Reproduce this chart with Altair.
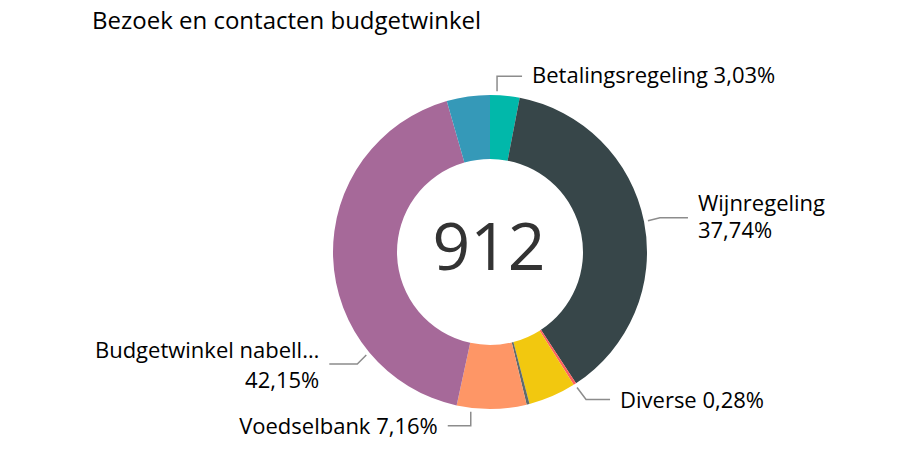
import math
import altair as alt
import pandas as pd

# ---- data ----
names = ["Betalingsregeling", "Wijnregeling", "Diverse", "Overig 1", "Overig 2",
         "Voedselbank", "Budgetwinkel nabellen", "Overig 3"]
pcts = [3.03, 37.74, 0.28, 4.90, 0.30, 7.16, 42.15, 4.44]
colors = ["#01B8AA", "#374649", "#FD625E", "#F2C80F", "#5F6B6D",
          "#FE9666", "#A66999", "#3599B8"]
label_lines = {
    "Betalingsregeling": ["Betalingsregeling 3,03%"],
    "Wijnregeling": ["Wijnregeling", "37,74%"],
    "Diverse": ["Diverse 0,28%"],
    "Voedselbank": ["Voedselbank 7,16%"],
    "Budgetwinkel nabellen": ["Budgetwinkel nabell…", "42,15%"],
}
total_label = "912"
title_text = "Bezoek en contacten budgetwinkel"

# ---- layout ----
W, H = 893, 449
CX, CY = 482, 244
R_OUT, R_IN = 157, 93
FONT = "Segoe UI, Open Sans, Noto Sans, sans-serif"

df = pd.DataFrame({"idx": range(len(names)), "name": names, "pct": pcts})

# slice angles (clockwise from 12 o'clock)
starts, acc = [], 0.0
for p in pcts:
    starts.append(acc)
    acc += p
span = {n: (s / 100 * 360, (s + p) / 100 * 360) for n, s, p in zip(names, starts, pcts)}

# label layout: fraction within slice for anchor, elbow offset, side
layout = {
    "Betalingsregeling": (0.23, (0, -15), 25, "left", 0),
    "Wijnregeling": (0.5, (12, -3), 28, "left", 0),
    "Diverse": (0.5, (9, 12), 24, "left", 2),
    "Voedselbank": (0.79, (0, 14), 23, "right", 1),
    "Budgetwinkel nabellen": (0.25, (-9, 9), 28, "right", 0),
}

line_rows, text_rows = [], []
for k, (frac, (ex, ey), hlen, side, tdy) in layout.items():
    a0, a1 = span[k]
    ang = math.radians(a0 + frac * (a1 - a0))
    r = R_OUT + 4
    ax, ay = CX + r * math.sin(ang), CY - r * math.cos(ang)
    bx, by = ax + ex, ay + ey
    cx = bx + hlen if side == "left" else bx - hlen
    for j, (px, py) in enumerate([(ax, ay), (bx, by), (cx, by)]):
        line_rows.append({"lab": k, "o": j, "px": px, "py": py})
    lines = label_lines[k]
    tx = cx + 10 if side == "left" else cx - 10
    if len(lines) == 1:
        ys = [by + tdy]
    else:
        ys = [by - 14, by + 13] if side == "left" else [by - 13, by + 17]
    for t, yy in zip(lines, ys):
        text_rows.append({"t": t, "px": tx, "py": yy, "side": side})

lines_df = pd.DataFrame(line_rows)
texts_df = pd.DataFrame(text_rows)

arcs = alt.Chart(df).mark_arc(innerRadius=R_IN, outerRadius=R_OUT).encode(
    theta=alt.Theta("pct:Q", stack=True),
    color=alt.Color("name:N", scale=alt.Scale(domain=names, range=colors), legend=None),
    order=alt.Order("idx:Q"),
    x=alt.value(CX),
    y=alt.value(CY),
)

leaders = alt.Chart(lines_df).mark_line(color="#8C8C8C", strokeWidth=1.5).encode(
    x=alt.X("px:Q", scale=None),
    y=alt.Y("py:Q", scale=None),
    detail="lab:N",
    order="o:Q",
)

left_text = alt.Chart(texts_df).transform_filter(alt.datum.side == "left").mark_text(
    align="left", baseline="middle", font=FONT, fontSize=22, color="#000000"
).encode(x=alt.X("px:Q", scale=None), y=alt.Y("py:Q", scale=None), text="t:N")

right_text = alt.Chart(texts_df).transform_filter(alt.datum.side == "right").mark_text(
    align="right", baseline="middle", font=FONT, fontSize=22, color="#000000"
).encode(x=alt.X("px:Q", scale=None), y=alt.Y("py:Q", scale=None), text="t:N")

center = alt.Chart(pd.DataFrame({"t": [total_label]})).mark_text(
    align="center", baseline="middle", font=FONT, fontSize=66, color="#333333"
).encode(x=alt.value(CX - 1), y=alt.value(CY - 2), text="t:N")

title = alt.Chart(pd.DataFrame({"t": [title_text]})).mark_text(
    align="left", baseline="middle", font=FONT, fontSize=24, color="#000000"
).encode(x=alt.value(84), y=alt.value(14), text="t:N")

chart = alt.layer(arcs, leaders, left_text, right_text, center, title).properties(
    width=W, height=H, autosize=alt.AutoSizeParams(type="none"), padding=0
).configure_view(stroke=None)

chart.save("out.html", embed_options={"renderer": "svg", "actions": False})
